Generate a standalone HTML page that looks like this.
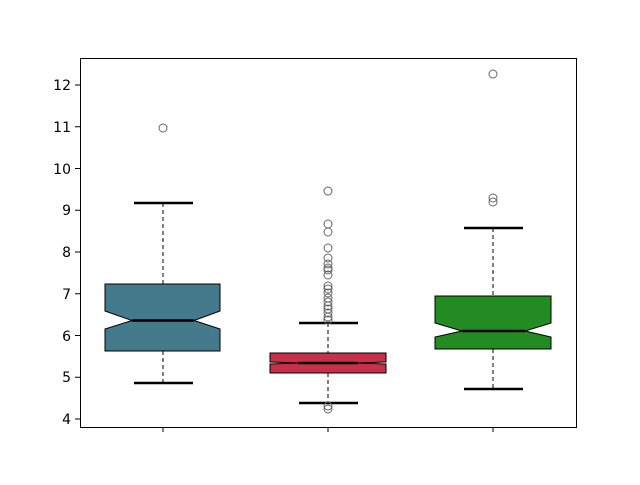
<!DOCTYPE html><html><head><style>body{margin:0;background:#fff}</style></head><body>
<svg width="640" height="480" xmlns="http://www.w3.org/2000/svg" font-family="DejaVu Sans, sans-serif" font-size="14">
<rect width="640" height="480" fill="#fff"/>
<g stroke="#000" stroke-width="1" fill="none">
<!-- box1 -->
<line x1="163" y1="203" x2="163" y2="284" stroke-dasharray="4,3"/>
<line x1="163" y1="351" x2="163" y2="383" stroke-dasharray="4,3"/>
<path d="M105,284H220V311L194,320.5L220,329V351H105V329L132,320.5L105,311Z" fill="#437a8c"/>
<line x1="132" y1="320.5" x2="194" y2="320.5" stroke-width="2.5"/>
<line x1="134" y1="203" x2="193" y2="203" stroke-width="2.5"/>
<line x1="134" y1="383" x2="193" y2="383" stroke-width="2.5"/>
<!-- box2 -->
<line x1="328" y1="323" x2="328" y2="353" stroke-dasharray="4,3"/>
<line x1="328" y1="373" x2="328" y2="403" stroke-dasharray="4,3"/>
<path d="M270,353H386V362L358,363L386,364V373H270V364L298,363L270,362Z" fill="#c8304a"/>
<line x1="298" y1="363" x2="358" y2="363" stroke-width="2.5"/>
<line x1="299" y1="323" x2="358" y2="323" stroke-width="2.5"/>
<line x1="299" y1="403" x2="358" y2="403" stroke-width="2.5"/>
<!-- box3 -->
<line x1="493" y1="228" x2="493" y2="296" stroke-dasharray="4,3"/>
<line x1="493" y1="349" x2="493" y2="389" stroke-dasharray="4,3"/>
<path d="M435,296H551V323L525,331L551,337V349H435V337L462,331L435,323Z" fill="#228b22"/>
<line x1="462" y1="331" x2="525" y2="331" stroke-width="2.5"/>
<line x1="464" y1="228" x2="523" y2="228" stroke-width="2.5"/>
<line x1="464" y1="389" x2="523" y2="389" stroke-width="2.5"/>
</g>
<g stroke="#666" fill="none" stroke-width="1">
<circle cx="163" cy="128" r="4"/>
<circle cx="493" cy="74" r="4"/><circle cx="493" cy="198" r="4"/><circle cx="493" cy="202" r="4"/>
<circle cx="328" cy="191" r="4"/><circle cx="328" cy="224" r="4"/><circle cx="328" cy="232" r="4"/><circle cx="328" cy="248" r="4"/><circle cx="328" cy="258" r="4"/><circle cx="328" cy="264" r="4"/><circle cx="328" cy="268" r="4"/><circle cx="328" cy="270" r="4"/><circle cx="328" cy="275" r="4"/><circle cx="328" cy="286" r="4"/><circle cx="328" cy="289" r="4"/><circle cx="328" cy="293" r="4"/><circle cx="328" cy="298" r="4"/><circle cx="328" cy="302" r="4"/><circle cx="328" cy="306" r="4"/><circle cx="328" cy="309" r="4"/><circle cx="328" cy="313" r="4"/><circle cx="328" cy="317" r="4"/><circle cx="328" cy="320" r="4"/><circle cx="328" cy="406" r="4"/><circle cx="328" cy="409" r="4"/>
</g>
<rect x="80.5" y="58.5" width="496" height="369" fill="none" stroke="#000"/>
<g stroke="#000">
<line x1="163" y1="427" x2="163" y2="432"/><line x1="328" y1="427" x2="328" y2="432"/><line x1="493" y1="427" x2="493" y2="432"/>
<line x1="75" y1="419" x2="80" y2="419"/><line x1="75" y1="377.25" x2="80" y2="377.25"/><line x1="75" y1="335.5" x2="80" y2="335.5"/><line x1="75" y1="293.75" x2="80" y2="293.75"/><line x1="75" y1="252" x2="80" y2="252"/><line x1="75" y1="210.25" x2="80" y2="210.25"/><line x1="75" y1="168.5" x2="80" y2="168.5"/><line x1="75" y1="126.75" x2="80" y2="126.75"/><line x1="75" y1="85" x2="80" y2="85"/>
</g>
<g text-anchor="end" fill="#000">
<text x="71" y="424">4</text><text x="71" y="382">5</text><text x="71" y="341">6</text><text x="71" y="299">7</text><text x="71" y="257">8</text><text x="71" y="215">9</text><text x="71" y="174">10</text><text x="71" y="132">11</text><text x="71" y="90">12</text>
</g>
</svg></body></html>
